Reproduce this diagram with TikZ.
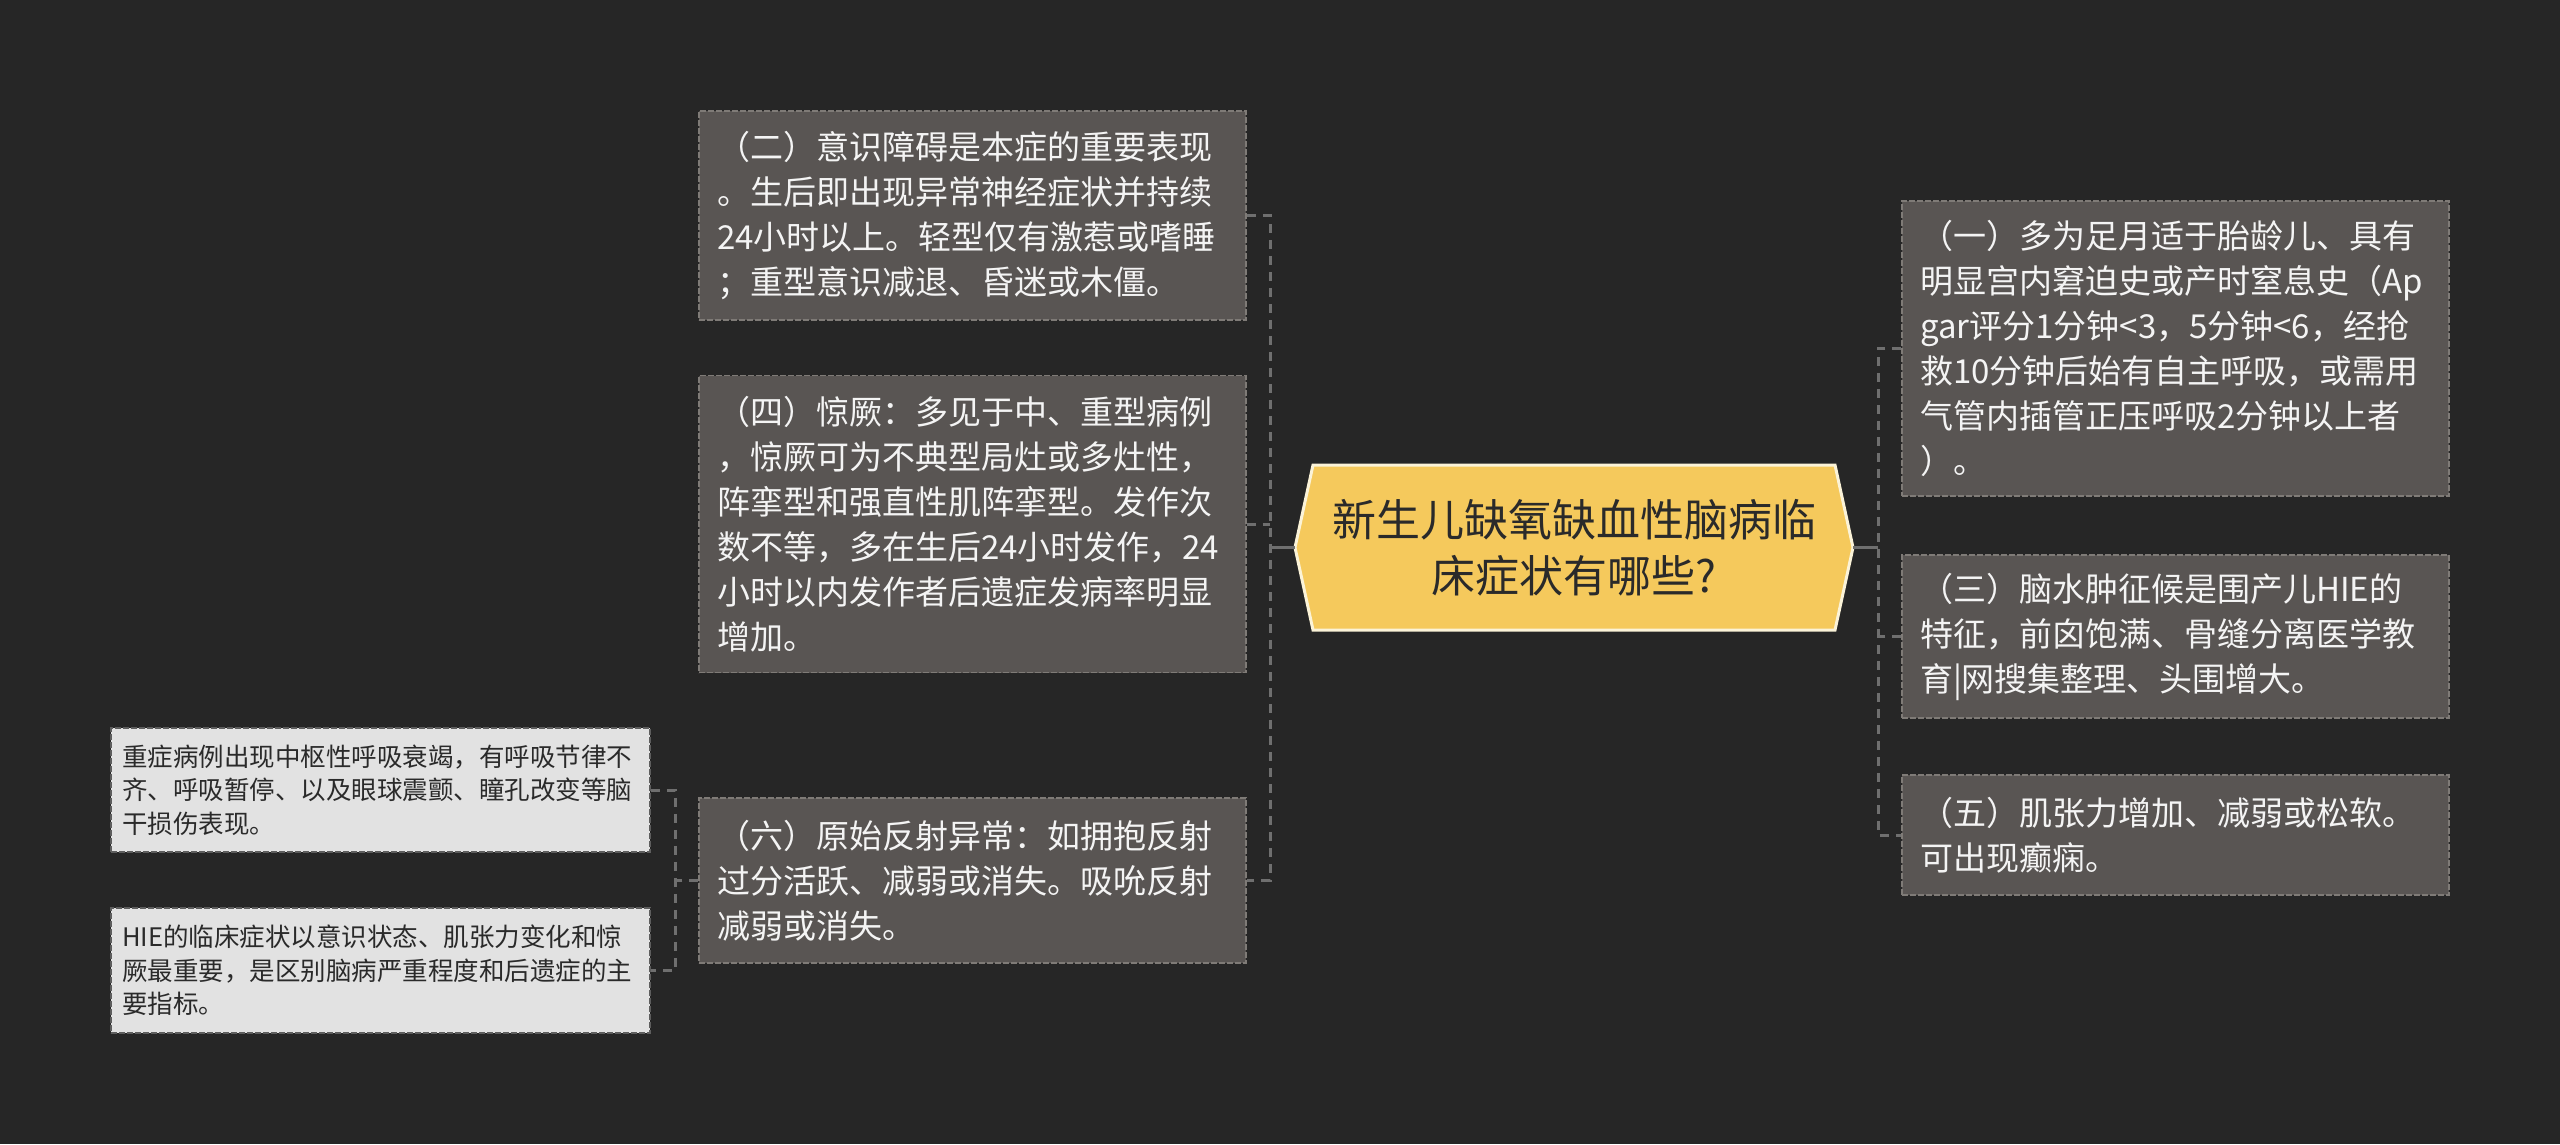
\documentclass[tikz,border=0pt]{standalone}
\usepackage{fontspec}
\newfontfamily\cjk{Noto Sans CJK SC}
\definecolor{bgc}{HTML}{262626}
\definecolor{boxfill}{HTML}{595553}
\definecolor{boxborder}{HTML}{7F7B77}
\definecolor{connc}{HTML}{6F6F6F}
\definecolor{centerfill}{HTML}{F5C95C}
\definecolor{centerborder}{HTML}{FBF3D8}
\definecolor{leaffill}{HTML}{E2E2E2}
\definecolor{leafborder}{HTML}{5E5E5E}
\definecolor{lighttext}{HTML}{F4F4F4}
\definecolor{darktext}{HTML}{2A2A2A}
\tikzset{
  conn/.style={draw=connc, line width=3pt, dash pattern=on 9pt off 7pt},
  connsolid/.style={draw=connc, line width=3pt},
  darkbox/.style={draw=boxborder, fill=boxfill, line width=1.5pt, dash pattern=on 6pt off 2pt,
    text=lighttext, font=\cjk\fontsize{33}{45}\selectfont, align=left,
    text width=511pt, inner xsep=18pt, inner ysep=0pt, minimum width=547pt},
  leafbox/.style={draw=leafborder, fill=leaffill, line width=1.5pt, dash pattern=on 6pt off 2pt,
    text=darktext, font=\cjk\fontsize{25.5}{33.5}\selectfont, align=left,
    text width=517pt, inner xsep=11pt, inner ysep=0pt, minimum width=539pt},
  centertext/.style={text=darktext, font=\cjk\fontsize{44}{55.5}\selectfont, align=center,
    inner sep=0pt, minimum width=558pt, minimum height=165pt},
}
\begin{document}
\begin{tikzpicture}[x=1pt,y=-1pt]
\useasboundingbox (0,0) rectangle (2560,1144);
\fill[bgc] (0,0) rectangle (2560,1144);

% centre
\fill[centerfill, draw=centerborder, line width=3pt, line join=miter]
  (1295,547.5) -- (1313,465) -- (1835,465) -- (1853,547.5) -- (1835,630) -- (1313,630) -- cycle;
\node[centertext] (c) at (1574,547.5) {新生儿缺氧缺血性脑病临\\床症状有哪些?};

% left boxes
\node[darkbox, minimum height=209pt] (b2) at (972.5,215.5) {（二）意识障碍是本症的重要表现\\。生后即出现异常神经症状并持续\\24小时以上。轻型仅有激惹或嗜睡\\；重型意识减退、昏迷或木僵。};
\node[darkbox, minimum height=297pt] (b4) at (972.5,524) {（四）惊厥：多见于中、重型病例\\，惊厥可为不典型局灶或多灶性，\\阵挛型和强直性肌阵挛型。发作次\\数不等，多在生后24小时发作，24\\小时以内发作者后遗症发病率明显\\增加。};
\node[darkbox, minimum height=165pt] (b6) at (972.5,880.5) {（六）原始反射异常：如拥抱反射\\过分活跃、减弱或消失。吸吮反射\\减弱或消失。};

% right boxes
\node[darkbox, minimum height=295pt] (b1) at (2175.5,348.5) {（一）多为足月适于胎龄儿、具有\\明显宫内窘迫史或产时窒息史（Ap\\gar评分1分钟<3，5分钟<6，经抢\\救10分钟后始有自主呼吸，或需用\\气管内插管正压呼吸2分钟以上者\\）。};
\node[darkbox, minimum height=163pt] (b3) at (2175.5,636.5) {（三）脑水肿征候是围产儿HIE的\\特征，前囟饱满、骨缝分离医学教\\育|网搜集整理、头围增大。};
\node[darkbox, minimum height=120pt] (b5) at (2175.5,835) {（五）肌张力增加、减弱或松软。\\可出现癫痫。};

% leaves
\node[leafbox, minimum height=124pt] (l1) at (380.5,790) {重症病例出现中枢性呼吸衰竭，有呼吸节律不\\齐、呼吸暂停、以及眼球震颤、瞳孔改变等脑\\干损伤表现。};
\node[leafbox, minimum height=125pt] (l2) at (380.5,970.5) {HIE的临床症状以意识状态、肌张力变化和惊\\厥最重要，是区别脑病严重程度和后遗症的主\\要指标。};

% connectors
\coordinate (lt) at (1270,547.5);
\coordinate (rt) at (1878,547.5);
\coordinate (lf) at (675,880.5);

\draw[connsolid] (c.west) -- (lt);
\draw[conn] (b2.east) -- (b2.east -| lt) -- (b6.east -| lt) -- (b6.east);
\draw[conn] (b4.east) -- (b4.east -| lt);

\draw[connsolid] (c.east) -- (rt);
\draw[conn] (b1.west) -- (b1.west -| rt) -- (b5.west -| rt) -- (b5.west);
\draw[conn] (b3.west) -- (b3.west -| rt);

\draw[conn] (b6.west) -- (lf);
\draw[conn] (l1.east) -- (l1.east -| lf) -- (l2.east -| lf) -- (l2.east);
\end{tikzpicture}
\end{document}
